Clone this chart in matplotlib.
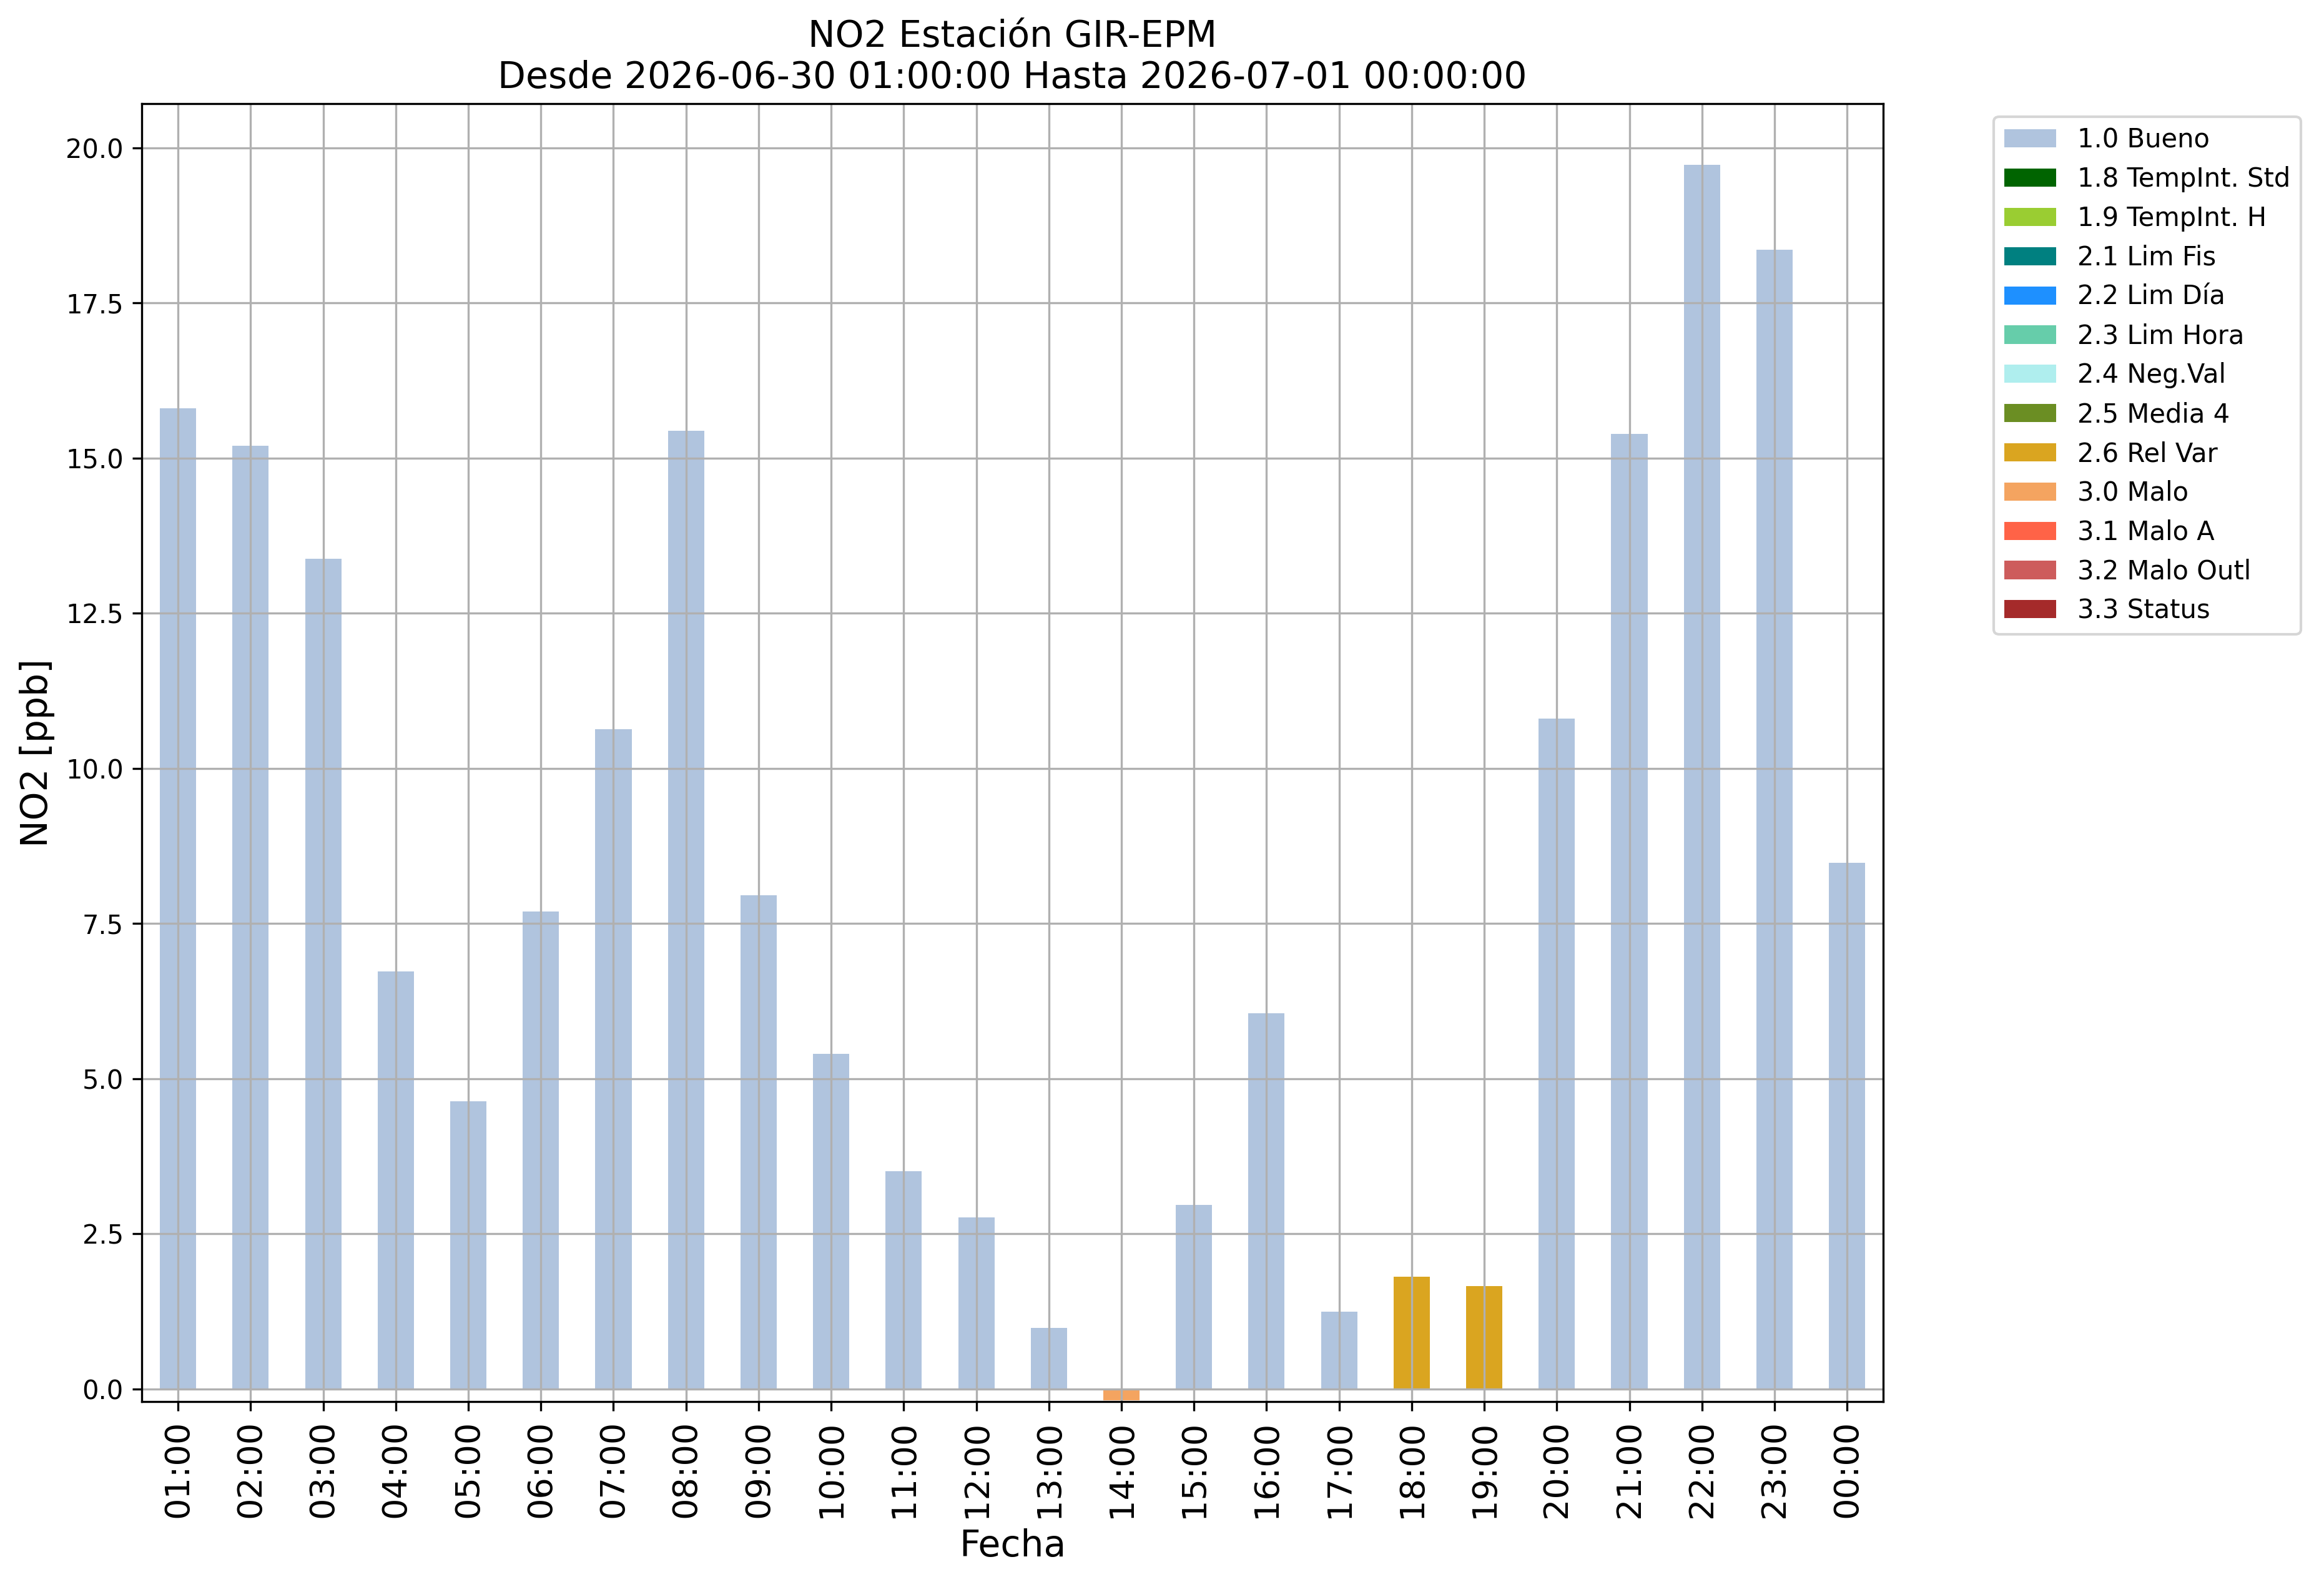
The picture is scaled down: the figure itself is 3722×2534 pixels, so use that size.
"""
NO2 hourly bar chart coloured by validation flag - GIR-EPM station
"""

import matplotlib
matplotlib.use('Agg')
import matplotlib.pyplot as plt
import numpy as np


# Hour labels (x axis)
HOURS = ['01:00', '02:00', '03:00', '04:00', '05:00', '06:00', '07:00', '08:00',
         '09:00', '10:00', '11:00', '12:00', '13:00', '14:00', '15:00', '16:00',
         '17:00', '18:00', '19:00', '20:00', '21:00', '22:00', '23:00', '00:00']

# NO2 concentration [ppb]
NO2_VALUES = [15.80, 15.20, 13.38, 6.73, 4.64, 7.69, 10.63, 15.44,
              7.96, 5.40, 3.51, 2.77, 0.98, -0.18, 2.97, 6.05,
              1.25, 1.81, 1.66, 10.80, 15.39, 19.72, 18.36, 8.48]

# Validation flag for each hour
FLAGS = ['1.0', '1.0', '1.0', '1.0', '1.0', '1.0', '1.0', '1.0',
         '1.0', '1.0', '1.0', '1.0', '1.0', '3.0', '1.0', '1.0',
         '1.0', '2.6', '2.6', '1.0', '1.0', '1.0', '1.0', '1.0']

# Flag codes, legend names and colours
FLAG_CODES = ['1.0', '1.8', '1.9', '2.1', '2.2', '2.3', '2.4',
              '2.5', '2.6', '3.0', '3.1', '3.2', '3.3']
FLAG_NAMES = ['Bueno', 'TempInt. Std', 'TempInt. H', 'Lim Fis', 'Lim Día',
              'Lim Hora', 'Neg.Val', 'Media 4', 'Rel Var', 'Malo', 'Malo A',
              'Malo Outl', 'Status']
FLAG_COLORS = ['lightsteelblue', 'darkgreen', 'yellowgreen', 'teal',
               'dodgerblue', 'mediumaquamarine', 'paleturquoise', 'olivedrab',
               'goldenrod', 'sandybrown', 'tomato', 'indianred', 'brown']


def plot_no2(output_path='out.png'):
    values = np.array(NO2_VALUES)
    flags = np.array(FLAGS)
    x = np.arange(len(HOURS))

    fig = plt.figure(figsize=(3722 / 300, 2534 / 300), dpi=300)
    ax = fig.add_axes([0.061, 0.1139, 0.7494, 0.8206])

    # One bar series per flag (zero height where the flag does not apply)
    for code, name, color in zip(FLAG_CODES, FLAG_NAMES, FLAG_COLORS):
        heights = np.where(flags == code, values, 0.0)
        ax.bar(x, heights, width=0.5, color=color, label=f'{code} {name}')

    ax.set_xlim(-0.5, len(HOURS) - 0.5)
    ax.set_ylim(-0.206, 20.71)
    ax.set_xticks(x)
    ax.set_xticklabels(HOURS, rotation=90, fontsize=13)
    ax.tick_params(axis='y', labelsize=10)
    ax.grid(True)

    ax.set_title('NO2 Estación GIR-EPM\n'
                 'Desde 2026-06-30 01:00:00 Hasta 2026-07-01 00:00:00',
                 fontsize=14)
    ax.set_xlabel('Fecha', fontsize=14)
    ax.set_ylabel('NO2 [ppb]', fontsize=14)

    ax.legend(bbox_to_anchor=(1.056, 1), loc='upper left', fontsize=10)

    fig.savefig(output_path, dpi=300)
    plt.close(fig)


if __name__ == '__main__':
    plot_no2('out.png')
